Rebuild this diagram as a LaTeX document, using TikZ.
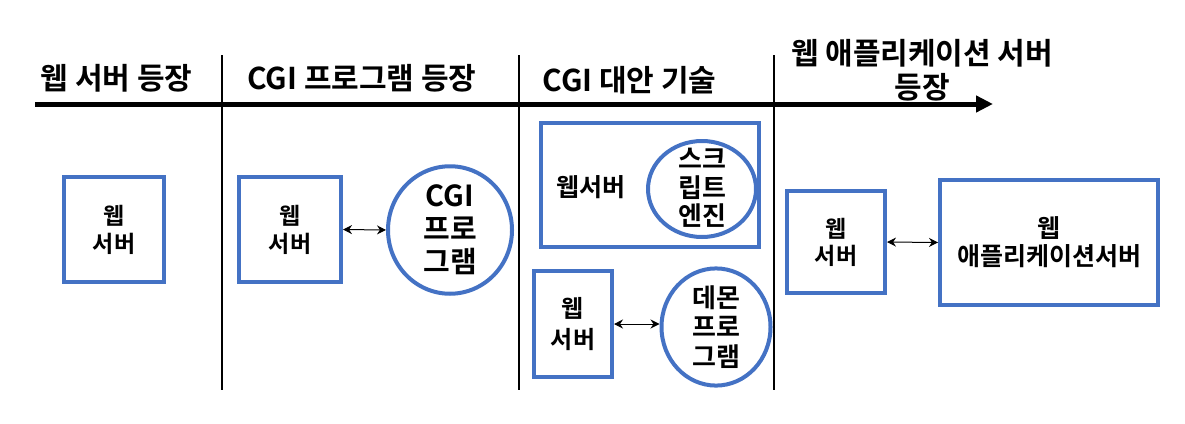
\documentclass[tikz,border=0pt]{standalone}
\usepackage{fontspec}
\setmainfont{Noto Sans CJK KR}[BoldFont={Noto Sans CJK KR Bold}]
\usetikzlibrary{shapes.geometric,arrows.meta}
\definecolor{boxblue}{HTML}{4472C4}
\tikzset{
  bluebox/.style={draw=boxblue,line width=4pt,inner sep=0pt,align=center,font=\fontsize{23}{28}\selectfont\bfseries},
  blueell/.style={ellipse,draw=boxblue,line width=4pt,inner sep=0pt,align=center},
  hdr/.style={inner sep=0pt,align=center,font=\fontsize{30}{34}\selectfont\bfseries},
  lbl/.style={inner sep=0pt,align=center,font=\fontsize{25}{29}\selectfont\bfseries},
  sep/.style={line width=1.2pt},
  dbl/.style={line width=1pt,{Stealth[length=9pt,width=9pt]}-{Stealth[length=9pt,width=9pt]}},
}
\begin{document}
\begin{tikzpicture}[x=1pt,y=-1pt]
\useasboundingbox (0,0) rectangle (1185,423);
% timeline
\coordinate (t0) at (35,104);
\coordinate (t1) at (993,104);
\draw[line width=5pt,-{Triangle[length=17pt,width=16pt]}] (t0) -- (t1);
% separators
\foreach \n/\x in {a/222,b/519,c/774}{
  \coordinate (\n0) at (\x,55);
  \coordinate (\n1) at (\x,390);
  \draw[sep] (\n0) -- (\n1);
}
% headers
\node[hdr] (h1) at (116.5,78) {웹 서버 등장};
\node[hdr] (h2) at (362,78) {CGI 프로그램 등장};
\node[hdr] (h3) at (629.5,80) {CGI 대안 기술};
\node[hdr] (h4) at (922,70) {웹 애플리케이션 서버\\등장};
% column 1
\node[bluebox,minimum width=100pt,minimum height=105pt] (b1) at (114,229.5) {웹\\서버};
% column 2
\node[bluebox,minimum width=102pt,minimum height=105pt] (b2) at (290,229.5) {웹\\서버};
\node[blueell,minimum width=124pt,minimum height=105pt,font=\fontsize{29}{33}\selectfont\bfseries] (e1) at (450,230) {CGI\\프로\\그램};
\draw[dbl] (b2.east) -- (e1.west);
% column 3
\node[bluebox,minimum width=218pt,minimum height=124pt] (b3) at (650,185) {};
\node[lbl] (t3) at (591,187.5) {웹서버};
\node[blueell,minimum width=108pt,minimum height=96pt] (e2) at (702,189) {};
\node[lbl,font=\fontsize{26}{28.5}\selectfont\bfseries] (t4) at (702,188) {스크\\립트\\엔진};
\node[bluebox,minimum width=78pt,minimum height=106pt,font=\fontsize{24}{31}\selectfont\bfseries] (b4) at (573,324) {웹\\서버};
\node[blueell,minimum width=109pt,minimum height=103pt,font=\fontsize{26}{29.5}\selectfont\bfseries] (e3) at (716,327) {데몬\\프로\\그램};
\draw[dbl] (b4.east) -- (b4.east -| e3.west);
% column 4
\node[bluebox,minimum width=98pt,minimum height=102pt,font=\fontsize{23}{27}\selectfont\bfseries] (b5) at (836,242) {웹\\서버};
\node[bluebox,minimum width=218pt,minimum height=125pt,font=\fontsize{25}{28}\selectfont\bfseries] (b6) at (1049,242.5) {웹\\애플리케이션서버};
\draw[dbl] (b5.east) -- (b6.west);
\end{tikzpicture}
\end{document}
